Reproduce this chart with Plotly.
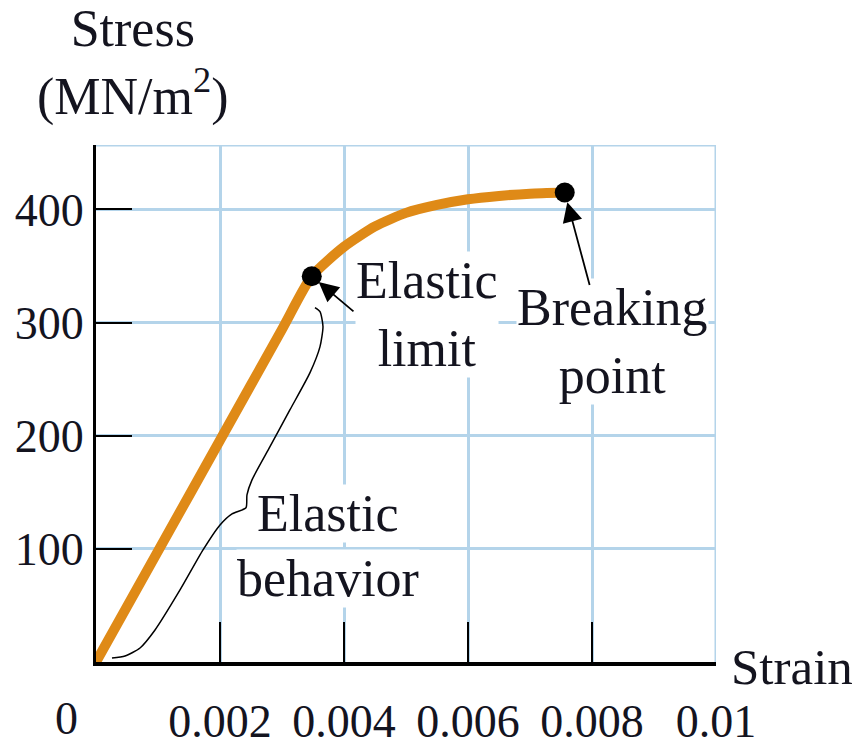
import plotly.graph_objects as go

# ---- data ----
strain = [0, 0.001, 0.002, 0.003, 0.00348, 0.004, 0.0045,
          0.005, 0.0055, 0.006, 0.0065, 0.007, 0.00756]
stress = [0, 98, 196, 294, 341, 367, 385, 397, 404, 409, 412, 414, 415]

elastic_limit = (0.00348, 341)
breaking_point = (0.00756, 415)

x_ticks = [0.002, 0.004, 0.006, 0.008, 0.01]
x_ticktext = ["0.002", "0.004", "0.006", "0.008", "0.01"]
x_tickmarks = [0.002, 0.004, 0.006, 0.008]
y_ticks = [100, 200, 300, 400]
y_ticktext = ["100", "200", "300", "400"]

x_max = 0.01
y_max = 457

# curly brace for "Elastic behavior" (data coordinates)
brace_x = [0.000258, 0.000468, 0.00071, 0.000952, 0.001355, 0.001726, 0.002, 0.002194,
           0.002419, 0.002435, 0.002516, 0.002806, 0.003129, 0.003452, 0.003613,
           0.003661, 0.003613, 0.003532]
brace_y = [3.5, 5.3, 12.4, 28.3, 63.7, 99.1, 121.2, 131, 136.3, 147.8, 161, 190.3,
           223, 255.8, 278.8, 296.5, 309.7, 313.3]

FONT = "Liberation Serif"
TXT = "#14141f"
GRID = "#b4d4ea"
ORANGE = "#df8a17"

fig = go.Figure()

fig.add_trace(go.Scatter(x=brace_x, y=brace_y, mode="lines",
                         line=dict(color="black", width=1.5, shape="spline", smoothing=0.6),
                         hoverinfo="skip", showlegend=False))

fig.add_trace(go.Scatter(x=strain, y=stress, mode="lines",
                         line=dict(color=ORANGE, width=10, shape="spline", smoothing=0.6),
                         showlegend=False))

fig.add_trace(go.Scatter(x=[elastic_limit[0], breaking_point[0]],
                         y=[elastic_limit[1], breaking_point[1]],
                         mode="markers", marker=dict(color="black", size=20),
                         showlegend=False))

# top and right frame lines (light blue)
fig.add_shape(type="line", xref="x", yref="y", x0=0, x1=x_max, y0=y_max, y1=y_max,
              line=dict(color=GRID, width=3), layer="below")
fig.add_shape(type="line", xref="x", yref="y", x0=x_max, x1=x_max, y0=0, y1=y_max,
              line=dict(color=GRID, width=3), layer="below")

ann_font = dict(family=FONT, size=52, color=TXT)

fig.add_annotation(x=0.005339, y=307, xref="x", yref="y", text="Elastic<br>limit",
                   showarrow=False, font=ann_font, bgcolor="white", borderpad=0)
fig.add_annotation(x=0.008323, y=283, xref="x", yref="y", text="Breaking<br>point",
                   showarrow=False, font=ann_font, bgcolor="white", borderpad=0)
fig.add_annotation(x=0.003742, y=131, xref="x", yref="y", text="Elastic",
                   showarrow=False, font=ann_font, bgcolor="white", borderpad=0)
fig.add_annotation(x=0.003742, y=73.5, xref="x", yref="y", text="behavior",
                   showarrow=False, font=ann_font, bgcolor="white", borderpad=0)

# arrows
fig.add_annotation(x=elastic_limit[0], y=elastic_limit[1], xref="x", yref="y",
                   ax=0.004177, ay=308.8, axref="x", ayref="y", text="",
                   showarrow=True, arrowhead=2, arrowsize=2.2, arrowwidth=1.8,
                   arrowcolor="black", standoff=9)
fig.add_annotation(x=breaking_point[0], y=breaking_point[1], xref="x", yref="y",
                   ax=0.007968, ay=331.9, axref="x", ayref="y", text="",
                   showarrow=True, arrowhead=2, arrowsize=2.2, arrowwidth=1.8,
                   arrowcolor="black", standoff=10)

# axis titles
fig.add_annotation(x=0.0597, y=1.158, xref="paper", yref="paper",
                   xanchor="center", yanchor="middle",
                   text="Stress<br>(MN/m<sup>2</sup>)", showarrow=False,
                   font=dict(family=FONT, size=52, color=TXT))
fig.add_annotation(x=1.1226, y=-0.0097, xref="paper", yref="paper",
                   xanchor="center", yanchor="middle",
                   text="Strain", showarrow=False,
                   font=dict(family=FONT, size=51, color=TXT))
# origin label
fig.add_annotation(x=0, y=0, xref="x", yref="paper", text="0", showarrow=False,
                   xanchor="center", xshift=-30, yshift=-29, yanchor="top",
                   font=dict(family=FONT, size=46, color=TXT))

fig.update_layout(
    width=864, height=756,
    margin=dict(l=96, r=148, t=145, b=94, pad=0),
    paper_bgcolor="white", plot_bgcolor="white",
    showlegend=False,
    xaxis=dict(range=[0, x_max], tickvals=x_ticks, ticktext=x_ticktext,
               ticks="", showgrid=True, gridcolor=GRID, gridwidth=3,
               showline=True, linecolor="black", linewidth=4, zeroline=False,
               ticklabelstandoff=16, automargin=False,
               tickfont=dict(family=FONT, size=46, color=TXT),
               minor=dict(tickvals=x_tickmarks, ticks="inside", ticklen=40,
                          tickwidth=2, tickcolor="black", showgrid=False)),
    yaxis=dict(range=[0, y_max], tickvals=y_ticks, ticktext=y_ticktext,
               ticks="inside", ticklen=36, tickwidth=2, tickcolor="black",
               showgrid=True, gridcolor=GRID, gridwidth=3,
               showline=True, linecolor="black", linewidth=3, zeroline=False,
               ticklabelstandoff=0, automargin=False,
               tickfont=dict(family=FONT, size=46, color=TXT)),
)

fig.write_html("out.html", config={"displayModeBar": False},
               post_script="document.body.style.margin='0px';")
